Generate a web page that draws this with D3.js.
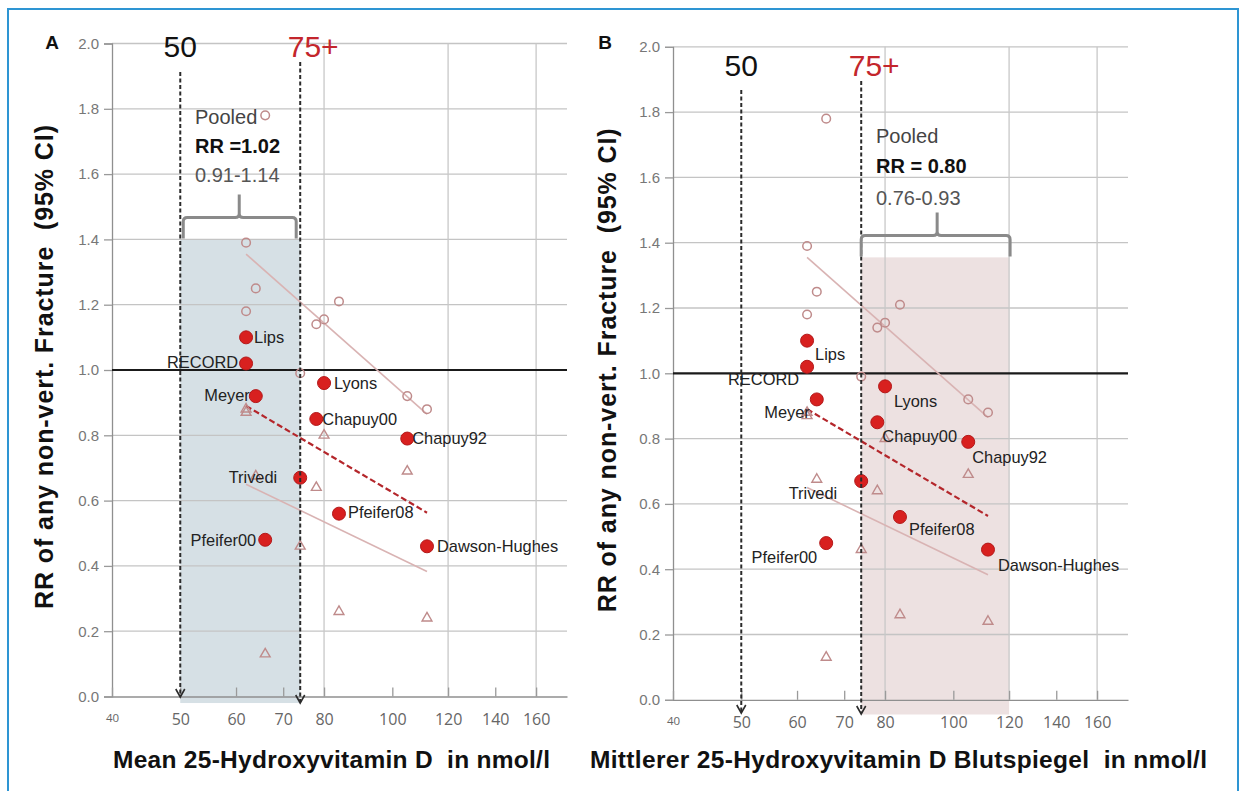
<!DOCTYPE html>
<html>
<head>
<meta charset="utf-8">
<script src="https://cdn.jsdelivr.net/npm/d3@7"></script>
<style>
  html, body { margin: 0; padding: 0; background: #fff; }
  svg { display: block; font-family: "Liberation Sans", Arial, sans-serif; }
  .pre { white-space: pre; }
</style>
</head>
<body>
<svg id="chart" width="1241" height="791"></svg>
<script>
// ---- data -------------------------------------------------------------
const studies  = ["Lips", "RECORD", "Meyer", "Pfeifer00", "Trivedi", "Chapuy00", "Lyons", "Pfeifer08", "Chapuy92", "Dawson-Hughes"];
const meanD    = [62, 62, 64, 66, 74, 78, 80, 84, 105, 112];          // mean 25(OH)D, nmol/l
const rr       = [1.10, 1.02, 0.92, 0.48, 0.67, 0.85, 0.96, 0.56, 0.79, 0.46];
const ciLow    = [0.87, 0.88, 0.675, 0.13, 0.46, 0.64, 0.80, 0.26, 0.69, 0.24];
const ciHigh   = [1.39, 1.18, 1.25, 1.78, 0.99, 1.14, 1.155, 1.21, 0.92, 0.88];

const trendX     = [62, 112];
const upperTrend = [1.355, 0.865];
const rrTrend    = [0.89, 0.563];
const lowerTrend = [0.65, 0.383];

const yTicks  = [0, 0.2, 0.4, 0.6, 0.8, 1.0, 1.2, 1.4, 1.6, 1.8, 2.0];
const xTicks  = [40, 50, 60, 70, 80, 100, 120, 140, 160];
const xGrid   = [80, 120, 160];
const thresholdValues = [50, 74];
const thresholdLabels = ["50", "75+"];

const panelLetters = ["A", "B"];
const pooledRR     = ["RR =1.02", "RR = 0.80"];
const pooledCI     = ["0.91-1.14", "0.76-0.93"];
const pooledRange  = [[50, 74], [74, 120]];
const pooledTop    = [1.40, 1.355];
const xTitles = ["Mean 25-Hydroxyvitamin D  in nmol/l", "Mittlerer 25-Hydroxyvitamin D Blutspiegel  in nmol/l"];
const yTitle  = "RR of any non-vert. Fracture  (95% CI)";

// ---- layout -----------------------------------------------------------
const panels = [
  { left: 112, right: 567, bottom: 696.5, top: 43.5, letterX: 52, yTitleX: 44,
    xTitleX: 331.5, xTitleLen: 437, shadeFill: "#d6e0e5", shadeBottom: -0.02,
    threshTop: [72, 62], threshTip: [697, 703], threshLabelY: 57,
    pooledX: 195, pooledBase: [124, 153, 182],
    labels: { "Lips": ["start", 8, 0], "RECORD": ["end", -8, -1], "Meyer": ["end", -6, -1],
              "Lyons": ["start", 10, 0], "Chapuy00": ["start", 6, 0], "Chapuy92": ["start", 5, 0],
              "Trivedi": ["end", -23, -1], "Pfeifer08": ["start", 9, -2], "Pfeifer00": ["end", -9, 0],
              "Dawson-Hughes": ["start", 10, 0] } },
  { left: 673, right: 1128, bottom: 699.8, top: 46.8, letterX: 605, yTitleX: 607,
    xTitleX: 898.5, xTitleLen: 617, shadeFill: "#ede1e1", shadeBottom: -0.045,
    threshTop: [90, 81], threshTip: [713, 714], threshLabelY: 76,
    pooledX: 876, pooledBase: [143, 173, 205],
    labels: { "Lips": ["start", 8, 13], "RECORD": ["end", -8, 12], "Meyer": ["end", -7, 13],
              "Lyons": ["start", 9, 15], "Chapuy00": ["start", 5, 14], "Chapuy92": ["start", 4, 15],
              "Trivedi": ["end", -24, 12], "Pfeifer08": ["start", 9, 12], "Pfeifer00": ["end", -9, 14],
              "Dawson-Hughes": ["start", 10, 15] } }
];

const svg = d3.select("#chart");

// outer frame
svg.append("rect").attr("x", 8).attr("y", 9).attr("width", 1230).attr("height", 800)
  .attr("fill", "#fff").attr("stroke", "#2e95d3").attr("stroke-width", 2);

const hollowColor = "#bf8b8b";
const trendColor  = "#d9b3b3";

panels.forEach((p, pi) => {
  const g = svg.append("g");
  const x = d3.scaleLog().domain([40, 177]).range([p.left, p.right]);
  const y = d3.scaleLinear().domain([0, 2]).range([p.bottom, p.top]);

  // shaded target range
  const [r0, r1] = pooledRange[pi];
  g.append("rect")
    .attr("x", x(r0)).attr("width", x(r1) - x(r0))
    .attr("y", y(pooledTop[pi])).attr("height", y(p.shadeBottom) - y(pooledTop[pi]))
    .attr("fill", p.shadeFill);

  // horizontal grid
  g.selectAll(".hgrid").data(yTicks.filter(d => d !== 0 && d !== 1)).join("line")
    .attr("x1", p.left).attr("x2", p.right)
    .attr("y1", d => y(d)).attr("y2", d => y(d))
    .attr("stroke", "#c4c4c4").attr("stroke-width", 1.3);
  // vertical grid
  g.selectAll(".vgrid").data(xGrid).join("line")
    .attr("x1", d => x(d)).attr("x2", d => x(d))
    .attr("y1", y(0)).attr("y2", y(2))
    .attr("stroke", "#c8c8c8").attr("stroke-width", 1.3);

  // y axis
  const yAxis = g.append("g").attr("transform", `translate(${p.left},0)`)
    .call(d3.axisLeft(y).tickValues(yTicks).tickFormat(d3.format(".1f")).tickSize(8).tickPadding(5));
  yAxis.select(".domain").attr("stroke", "#8f8f8f").attr("stroke-width", 1.3);
  yAxis.selectAll(".tick line").attr("stroke", "#9a9a9a").attr("stroke-width", 1.3);
  yAxis.selectAll(".tick text").attr("fill", "#777").attr("font-size", 15)
    .attr("font-family", "'Liberation Sans', Arial, sans-serif");

  // x axis
  const xAxis = g.append("g").attr("transform", `translate(0,${y(0)})`)
    .call(d3.axisBottom(x).tickValues(xTicks).tickFormat(d3.format("d")).tickSizeInner(-9).tickSizeOuter(0).tickPadding(17));
  xAxis.select(".domain").attr("stroke", "#8f8f8f").attr("stroke-width", 1.3);
  xAxis.selectAll(".tick line").attr("stroke", "#9a9a9a").attr("stroke-width", 1.3);
  xAxis.selectAll(".tick text").attr("fill", "#666")
    .attr("font-size", d => d === 40 ? 11.5 : 16)
    .attr("font-family", "'Open Sans', sans-serif");

  // RR = 1 reference line
  g.append("line").attr("x1", p.left).attr("x2", p.right)
    .attr("y1", y(1)).attr("y2", y(1))
    .attr("stroke", "#1a1a1a").attr("stroke-width", 2.2);

  // trend lines
  const lineGen = d3.line().x(d => x(d[0])).y(d => y(d[1]));
  [upperTrend, lowerTrend].forEach(t => {
    g.append("path").datum(trendX.map((v, i) => [v, t[i]]))
      .attr("d", lineGen).attr("fill", "none")
      .attr("stroke", trendColor).attr("stroke-width", 1.6);
  });
  g.append("path").datum(trendX.map((v, i) => [v, rrTrend[i]]))
    .attr("d", lineGen).attr("fill", "none")
    .attr("stroke", "#b4262b").attr("stroke-width", 2.2).attr("stroke-dasharray", "6,3");

  // upper CI bounds (open circles)
  g.selectAll(".hi").data(studies).join("circle")
    .attr("cx", (d, i) => x(meanD[i])).attr("cy", (d, i) => y(ciHigh[i])).attr("r", 4.3)
    .attr("fill", "none").attr("stroke", hollowColor).attr("stroke-width", 1.5);
  // lower CI bounds (open triangles)
  const tri = d3.symbol().type(d3.symbolTriangle).size(42);
  g.selectAll(".lo").data(studies).join("path")
    .attr("d", tri)
    .attr("transform", (d, i) => `translate(${x(meanD[i])},${y(ciLow[i])})`)
    .attr("fill", "none").attr("stroke", hollowColor).attr("stroke-width", 1.4);

  // relative risks (filled points)
  g.selectAll(".rr").data(studies).join("circle")
    .attr("cx", (d, i) => x(meanD[i])).attr("cy", (d, i) => y(rr[i])).attr("r", 6.5)
    .attr("fill", "#d8201f").attr("stroke", "#b3191a").attr("stroke-width", 1);

  // threshold markers with arrows
  thresholdValues.forEach((v, k) => {
    const xv = x(v), tip = p.threshTip[k];
    g.append("line").attr("x1", xv).attr("x2", xv)
      .attr("y1", p.threshTop[k]).attr("y2", tip - 1)
      .attr("stroke", "#2b2b2b").attr("stroke-width", 2).attr("stroke-dasharray", "4,2.5");
    g.append("path").attr("d", `M${xv - 4.5},${tip - 8} L${xv},${tip} L${xv + 4.5},${tip - 8}`)
      .attr("fill", "none").attr("stroke", "#2b2b2b").attr("stroke-width", 1.6);
    g.append("text")
      .attr("x", k === 0 ? xv : xv - 12.5).attr("y", p.threshLabelY)
      .attr("text-anchor", k === 0 ? "middle" : "start")
      .attr("font-size", 30).attr("fill", k === 0 ? "#111" : "#c3262c")
      .text(thresholdLabels[k]);
  });

  // study labels
  g.selectAll(".lbl").data(studies).join("text")
    .attr("x", (d, i) => x(meanD[i]) + p.labels[d][1])
    .attr("y", (d, i) => y(rr[i]) + p.labels[d][2])
    .attr("dy", "0.36em")
    .attr("text-anchor", d => p.labels[d][0])
    .attr("font-size", 16.4).attr("fill", "#222")
    .text(d => d);

  // brace over the shaded range
  const L = x(r0) + (pi === 0 ? 3 : 0), R = x(r1) + (pi === 0 ? -4 : 1);
  const yb = y(pooledTop[pi]) - 1, yh = yb - 21, C = (L + R) / 2 + (pi === 0 ? -0.5 : 1.5), yt = yh - 23;
  g.append("path")
    .attr("d", `M${L},${yb} L${L},${yh + 4} Q${L},${yh} ${L + 4},${yh} L${C - 4},${yh} Q${C},${yh} ${C},${yh - 4} L${C},${yt}` +
               ` M${C},${yh - 4} Q${C},${yh} ${C + 4},${yh} L${R - 4},${yh} Q${R},${yh} ${R},${yh + 4} L${R},${yb}`)
    .attr("fill", "none").attr("stroke", "#8a8a8a").attr("stroke-width", 3);

  // pooled estimate text
  g.append("text").attr("x", p.pooledX).attr("y", p.pooledBase[0])
    .attr("font-size", 20).attr("fill", "#444").text("Pooled");
  g.append("text").attr("x", p.pooledX).attr("y", p.pooledBase[1])
    .attr("font-size", 20).attr("font-weight", "bold").attr("fill", "#111").text(pooledRR[pi]);
  g.append("text").attr("x", p.pooledX).attr("y", p.pooledBase[2])
    .attr("font-size", 20).attr("fill", "#555").text(pooledCI[pi]);

  // panel letter
  g.append("text").attr("x", p.letterX).attr("y", 49).attr("text-anchor", "middle")
    .attr("font-size", 19).attr("font-weight", "bold").attr("fill", "#111").text(panelLetters[pi]);

  // axis titles
  g.append("text").attr("class", "pre")
    .attr("transform", `translate(${p.yTitleX + 9},${(p.top + p.bottom) / 2 - 3}) rotate(-90)`)
    .attr("text-anchor", "middle").attr("font-size", 25).attr("font-weight", "bold").attr("fill", "#111")
    .attr("textLength", 484).attr("lengthAdjust", "spacing")
    .text(yTitle);
  g.append("text").attr("class", "pre")
    .attr("x", p.xTitleX).attr("y", 768).attr("text-anchor", "middle")
    .attr("font-size", 24.5).attr("font-weight", "bold").attr("fill", "#111")
    .attr("textLength", p.xTitleLen).attr("lengthAdjust", "spacing")
    .text(xTitles[pi]);
});
</script>
</body>
</html>
